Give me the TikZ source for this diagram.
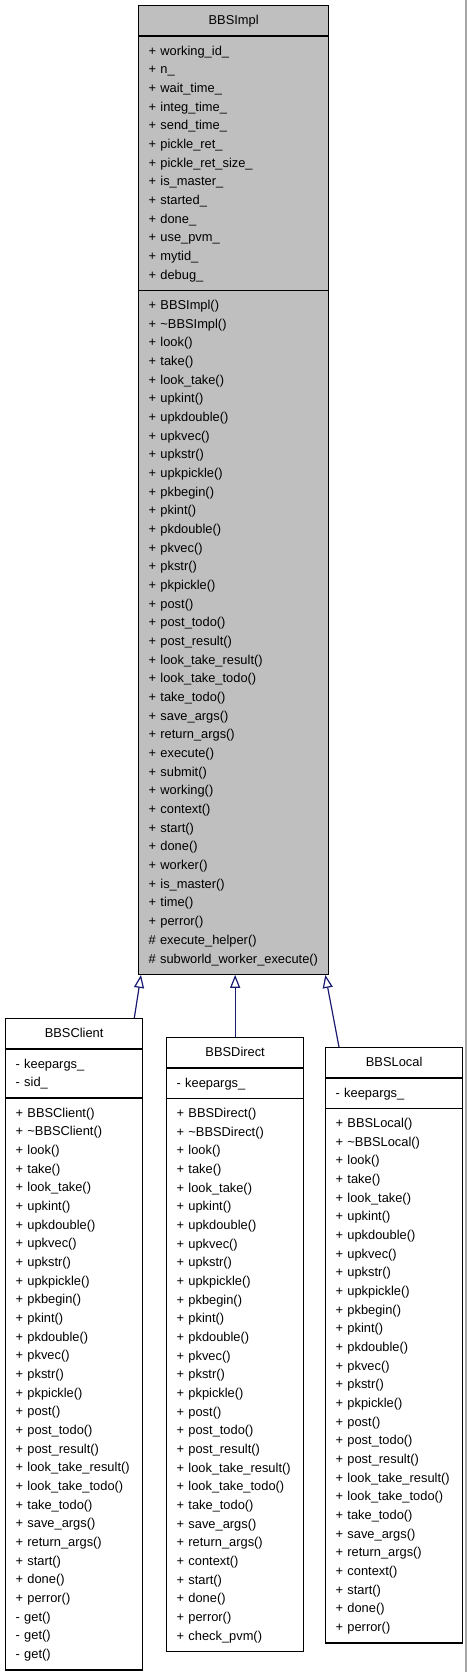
\documentclass[tikz,border=0pt]{standalone}
\usepackage{fontspec}
\setmainfont{Liberation Sans}
\usetikzlibrary{positioning}
\usetikzlibrary{shapes.multipart}
\usetikzlibrary{arrows.meta}
\usetikzlibrary{calc}
\definecolor{edgeblue}{RGB}{25,25,112}
\newcommand{\rs}{\rule[-5.4pt]{0pt}{18.67pt}}
\newcommand{\classname}[1]{\hbox to \hsize{\hfil#1\rs\hfil}}

\begin{document}
\begin{tikzpicture}
[x=1pt,y=-1pt,
 classbox/.style={shape=rectangle split,rectangle split parts=3,draw,line width=1.3pt,
   anchor=north west,align=left,inner xsep=10pt,inner ysep=5.2pt,
   font=\fontsize{12.86}{18.67}\selectfont,text width=117pt},
 basebox/.style={classbox,fill=gray!50,text width=170pt},
 inherit/.style={draw=edgeblue,line width=1.2pt,-{Triangle[open,length=13pt,width=10pt]}}]

\useasboundingbox (0,0) rectangle (467,1672);
\draw [line width=1.5pt,gray!70] (466,0) -- (466,1672);

\node (impl) [basebox] at (138,5) {\classname{BBSImpl}
	\nodepart{two} + working\_id\_\rs\\ + n\_\rs\\ + wait\_time\_\rs\\
	+ integ\_time\_\rs\\ + send\_time\_\rs\\ + pickle\_ret\_\rs\\
	+ pickle\_ret\_size\_\rs\\ + is\_master\_\rs\\ + started\_\rs\\
	+ done\_\rs\\ + use\_pvm\_\rs\\ + mytid\_\rs\\ + debug\_\rs
	\nodepart{three} + BBSImpl()\rs\\ + \textasciitilde BBSImpl()\rs\\
	+ look()\rs\\ + take()\rs\\ + look\_take()\rs\\ + upkint()\rs\\
	+ upkdouble()\rs\\ + upkvec()\rs\\ + upkstr()\rs\\ + upkpickle()\rs\\
	+ pkbegin()\rs\\ + pkint()\rs\\ + pkdouble()\rs\\ + pkvec()\rs\\
	+ pkstr()\rs\\ + pkpickle()\rs\\ + post()\rs\\ + post\_todo()\rs\\
	+ post\_result()\rs\\ + look\_take\_result()\rs\\ + look\_take\_todo()\rs\\
	+ take\_todo()\rs\\ + save\_args()\rs\\ + return\_args()\rs\\
	+ execute()\rs\\ + submit()\rs\\ + working()\rs\\ + context()\rs\\
	+ start()\rs\\ + done()\rs\\ + worker()\rs\\ + is\_master()\rs\\
	+ time()\rs\\ + perror()\rs\\ \# execute\_helper()\rs\\
	\# subworld\_worker\_execute()\rs};

\node (client) [classbox] at (5,1018) {\classname{BBSClient}
	\nodepart{two} - keepargs\_\rs\\ - sid\_\rs
	\nodepart{three} + BBSClient()\rs\\ + \textasciitilde BBSClient()\rs\\
	+ look()\rs\\ + take()\rs\\ + look\_take()\rs\\ + upkint()\rs\\
	+ upkdouble()\rs\\ + upkvec()\rs\\ + upkstr()\rs\\ + upkpickle()\rs\\
	+ pkbegin()\rs\\ + pkint()\rs\\ + pkdouble()\rs\\ + pkvec()\rs\\
	+ pkstr()\rs\\ + pkpickle()\rs\\ + post()\rs\\ + post\_todo()\rs\\
	+ post\_result()\rs\\ + look\_take\_result()\rs\\ + look\_take\_todo()\rs\\
	+ take\_todo()\rs\\ + save\_args()\rs\\ + return\_args()\rs\\
	+ start()\rs\\ + done()\rs\\ + perror()\rs\\
	- get()\rs\\ - get()\rs\\ - get()\rs};

\node (direct) [classbox] at (166,1037) {\classname{BBSDirect}
	\nodepart{two} - keepargs\_\rs
	\nodepart{three} + BBSDirect()\rs\\ + \textasciitilde BBSDirect()\rs\\
	+ look()\rs\\ + take()\rs\\ + look\_take()\rs\\ + upkint()\rs\\
	+ upkdouble()\rs\\ + upkvec()\rs\\ + upkstr()\rs\\ + upkpickle()\rs\\
	+ pkbegin()\rs\\ + pkint()\rs\\ + pkdouble()\rs\\ + pkvec()\rs\\
	+ pkstr()\rs\\ + pkpickle()\rs\\ + post()\rs\\ + post\_todo()\rs\\
	+ post\_result()\rs\\ + look\_take\_result()\rs\\ + look\_take\_todo()\rs\\
	+ take\_todo()\rs\\ + save\_args()\rs\\ + return\_args()\rs\\
	+ context()\rs\\ + start()\rs\\ + done()\rs\\ + perror()\rs\\
	+ check\_pvm()\rs};

\node (local) [classbox] at (325,1047) {\classname{BBSLocal}
	\nodepart{two} - keepargs\_\rs
	\nodepart{three} + BBSLocal()\rs\\ + \textasciitilde BBSLocal()\rs\\
	+ look()\rs\\ + take()\rs\\ + look\_take()\rs\\ + upkint()\rs\\
	+ upkdouble()\rs\\ + upkvec()\rs\\ + upkstr()\rs\\ + upkpickle()\rs\\
	+ pkbegin()\rs\\ + pkint()\rs\\ + pkdouble()\rs\\ + pkvec()\rs\\
	+ pkstr()\rs\\ + pkpickle()\rs\\ + post()\rs\\ + post\_todo()\rs\\
	+ post\_result()\rs\\ + look\_take\_result()\rs\\ + look\_take\_todo()\rs\\
	+ take\_todo()\rs\\ + save\_args()\rs\\ + return\_args()\rs\\
	+ context()\rs\\ + start()\rs\\ + done()\rs\\ + perror()\rs};

\draw [inherit] ($(client.north east)+(-9,0)$) -- ($(impl.south west)+(3,0)$);
\draw [inherit] (direct.north) -- (direct.north |- impl.south);
\draw [inherit] ($(local.north west)+(14,0)$) -- ($(impl.south east)+(-4,0)$);
\end{tikzpicture}
\end{document}
